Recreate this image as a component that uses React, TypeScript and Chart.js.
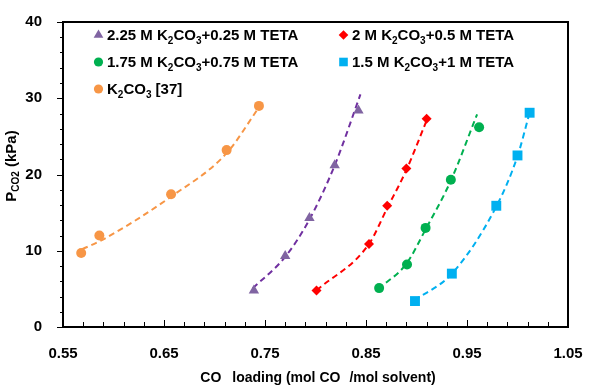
import React, { useEffect, useRef } from "react";
import { Chart, registerables } from "chart.js";

Chart.register(...registerables);

const FONT = "'Liberation Sans', Arial, sans-serif";

// ---- Data ----
// Markers
const tetaA_x = [0.739, 0.770, 0.794, 0.819, 0.8425];
const tetaA_y = [4.8, 9.3, 14.3, 21.2, 28.4];
const tetaB_x = [0.801, 0.853, 0.871, 0.890, 0.910];
const tetaB_y = [4.8, 10.9, 15.9, 20.8, 27.3];
const tetaC_x = [0.863, 0.8906, 0.909, 0.934, 0.962];
const tetaC_y = [5.1, 8.2, 13.0, 19.3, 26.2];
const tetaD_x = [0.8985, 0.935, 0.979, 1.0, 1.012];
const tetaD_y = [3.4, 7.0, 15.9, 22.5, 28.1];
const k2co3_x = [0.568, 0.586, 0.657, 0.712, 0.744];
const k2co3_y = [9.7, 12.0, 17.4, 23.2, 29.0];

// Dashed trend lines
const trendA_x = [0.738, 0.770, 0.794, 0.819, 0.8445];
const trendA_y = [5.1, 9.2, 14.1, 21.2, 30.5];
const trendB_x = [0.801, 0.853, 0.871, 0.890, 0.911];
const trendB_y = [4.8, 10.9, 15.6, 20.6, 27.4];
const trendC_x = [0.862, 0.890, 0.909, 0.934, 0.960];
const trendC_y = [5.0, 8.3, 12.8, 19.2, 27.9];
const trendD_x = [0.898, 0.935, 0.979, 1.0, 1.012];
const trendD_y = [3.5, 7.0, 15.8, 22.4, 28.1];
const trendE_x = [0.569, 0.590, 0.657, 0.712, 0.744];
const trendE_y = [10.2, 11.5, 17.1, 22.8, 28.8];

// Axis ticks
const xMajorTicks = [0.55, 0.65, 0.75, 0.85, 0.95, 1.05];
const xMinorTicks = [
  0.57, 0.59, 0.61, 0.63, 0.67, 0.69, 0.71, 0.73, 0.77, 0.79, 0.81, 0.83,
  0.87, 0.89, 0.91, 0.93, 0.97, 0.99, 1.01, 1.03,
];
const yMajorTicks = [0, 10, 20, 30, 40];
const yMinorTicks = [2, 4, 6, 8, 12, 14, 16, 18, 22, 24, 26, 28, 32, 34, 36, 38];

const PURPLE_M = "#8064A2";
const PURPLE_L = "#7030A0";
const RED = "#FF0000";
const GREEN = "#00B050";
const BLUE = "#00B0F0";
const ORANGE = "#F79646";

type Part = { t: string; sub?: boolean };

const legendItems: { shape: string; color: string; col: number; row: number; parts: Part[] }[] = [
  { shape: "triangle", color: PURPLE_M, col: 0, row: 0, parts: [{ t: "2.25 M K" }, { t: "2", sub: true }, { t: "CO" }, { t: "3", sub: true }, { t: "+0.25 M TETA" }] },
  { shape: "diamond", color: RED, col: 1, row: 0, parts: [{ t: "2 M K" }, { t: "2", sub: true }, { t: "CO" }, { t: "3", sub: true }, { t: "+0.5 M TETA" }] },
  { shape: "circle", color: GREEN, col: 0, row: 1, parts: [{ t: "1.75 M K" }, { t: "2", sub: true }, { t: "CO" }, { t: "3", sub: true }, { t: "+0.75 M TETA" }] },
  { shape: "square", color: BLUE, col: 1, row: 1, parts: [{ t: "1.5 M K" }, { t: "2", sub: true }, { t: "CO" }, { t: "3", sub: true }, { t: "+1 M TETA" }] },
  { shape: "circle", color: ORANGE, col: 0, row: 2, parts: [{ t: "K" }, { t: "2", sub: true }, { t: "CO" }, { t: "3", sub: true }, { t: " [37]" }] },
];

function pts(xs: number[], ys: number[]) {
  return xs.map((x, i) => ({ x, y: ys[i] }));
}

function drawRich(ctx: CanvasRenderingContext2D, x: number, y: number, parts: Part[], size: number, measureOnly = false) {
  let cx = x;
  for (const p of parts) {
    ctx.font = p.sub ? `bold ${Math.round(size * 0.66)}px ${FONT}` : `bold ${size}px ${FONT}`;
    if (!measureOnly) ctx.fillText(p.t, cx, p.sub ? y + size * 0.22 : y);
    cx += ctx.measureText(p.t).width;
  }
  return cx - x;
}

function drawShape(ctx: CanvasRenderingContext2D, shape: string, x: number, y: number, color: string) {
  ctx.fillStyle = color;
  ctx.beginPath();
  if (shape === "triangle") {
    const r = 5.6;
    ctx.moveTo(x, y - r);
    ctx.lineTo(x + r * 0.866, y + r * 0.5);
    ctx.lineTo(x - r * 0.866, y + r * 0.5);
    ctx.closePath();
  } else if (shape === "diamond") {
    const r = 4.8;
    ctx.moveTo(x, y - r);
    ctx.lineTo(x + r, y);
    ctx.lineTo(x, y + r);
    ctx.lineTo(x - r, y);
    ctx.closePath();
  } else if (shape === "square") {
    ctx.rect(x - 4.3, y - 4.3, 8.6, 8.6);
  } else {
    ctx.arc(x, y, 4.6, 0, Math.PI * 2);
  }
  ctx.fill();
}

const decorPlugin = {
  id: "decor",
  afterDraw(chart: any) {
    const ctx: CanvasRenderingContext2D = chart.ctx;
    const { left, right, top, bottom } = chart.chartArea;
    const xs = chart.scales.x;
    const ys = chart.scales.y;
    ctx.save();
    // frame
    ctx.strokeStyle = "#000";
    ctx.lineWidth = 2;
    ctx.strokeRect(left, top, right - left, bottom - top);
    // x ticks (inward)
    ctx.lineWidth = 1;
    ctx.beginPath();
    for (const v of xMajorTicks) {
      const px = Math.round(xs.getPixelForValue(v)) + 0.5;
      ctx.moveTo(px, bottom);
      ctx.lineTo(px, bottom - 7);
    }
    for (const v of xMinorTicks) {
      const px = Math.round(xs.getPixelForValue(v)) + 0.5;
      ctx.moveTo(px, bottom);
      ctx.lineTo(px, bottom - 5);
    }
    // y ticks (outward)
    for (const v of yMajorTicks) {
      const py = Math.round(ys.getPixelForValue(v)) + 0.5;
      ctx.moveTo(left, py);
      ctx.lineTo(left - 6, py);
    }
    for (const v of yMinorTicks) {
      const py = Math.round(ys.getPixelForValue(v)) + 0.5;
      ctx.moveTo(left, py);
      ctx.lineTo(left - 3, py);
    }
    ctx.stroke();

    // legend
    ctx.textBaseline = "alphabetic";
    ctx.textAlign = "left";
    const colMarkX = [98.5, 343.5];
    const colTextX = [107, 352];
    const rowY = [35, 62, 89];
    for (const it of legendItems) {
      const my = rowY[it.row];
      drawShape(ctx, it.shape, colMarkX[it.col], my, it.color);
      ctx.fillStyle = "#000";
      drawRich(ctx, colTextX[it.col], my + 5.3, it.parts, 15);
    }

    // x-axis title
    ctx.fillStyle = "#000";
    ctx.font = `bold 14px ${FONT}`;
    const segs = ["CO", "loading (mol CO", "/mol solvent)"];
    const gaps = [11, 9];
    const widths = segs.map((s) => ctx.measureText(s).width);
    const total = widths[0] + widths[1] + widths[2] + gaps[0] + gaps[1];
    let sx = 318 - total / 2;
    const by = 382;
    segs.forEach((s, i) => {
      ctx.fillText(s, sx, by);
      sx += widths[i] + (gaps[i] || 0);
    });

    // y-axis title
    ctx.save();
    ctx.translate(16, 166);
    ctx.rotate(-Math.PI / 2);
    const yParts: Part[] = [{ t: "P" }, { t: "CO2", sub: true }, { t: " (kPa)" }];
    const w = drawRich(ctx, 0, 0, yParts, 15, true);
    drawRich(ctx, -w / 2, 0, yParts, 15);
    ctx.restore();

    ctx.restore();
  },
};

export default function App() {
  const ref = useRef<HTMLCanvasElement | null>(null);
  useEffect(() => {
    if (!ref.current) return;
    const markerDs = (data: any, color: string, style: string, radius: number) => ({
      type: "scatter" as const,
      data,
      showLine: false,
      pointStyle: style,
      pointRadius: radius,
      pointBackgroundColor: color,
      pointBorderColor: color,
      pointBorderWidth: 0,
      order: 0,
    });
    const trendDs = (data: any, color: string) => ({
      type: "line" as const,
      data,
      borderColor: color,
      borderWidth: 2,
      borderDash: [6, 4],
      pointRadius: 0,
      fill: false,
      cubicInterpolationMode: "monotone" as const,
      order: 1,
    });
    const chart = new Chart(ref.current, {
      type: "scatter",
      data: {
        datasets: [
          trendDs(pts(trendA_x, trendA_y), PURPLE_L),
          trendDs(pts(trendB_x, trendB_y), RED),
          trendDs(pts(trendC_x, trendC_y), GREEN),
          trendDs(pts(trendD_x, trendD_y), BLUE),
          trendDs(pts(trendE_x, trendE_y), ORANGE),
          markerDs(pts(tetaA_x, tetaA_y), PURPLE_M, "triangle", 6),
          markerDs(pts(tetaB_x, tetaB_y), RED, "rectRot", 5),
          markerDs(pts(tetaC_x, tetaC_y), GREEN, "circle", 5),
          markerDs(pts(tetaD_x, tetaD_y), BLUE, "rect", 7),
          markerDs(pts(k2co3_x, k2co3_y), ORANGE, "circle", 5),
        ] as any,
      },
      options: {
        responsive: false,
        animation: false,
        devicePixelRatio: 1,
        layout: { padding: { top: 14, right: 32, left: 0, bottom: 0 } },
        plugins: {
          legend: { display: false },
          tooltip: { enabled: false },
        },
        scales: {
          x: {
            type: "linear",
            min: 0.55,
            max: 1.05,
            grid: { display: false },
            border: { display: false },
            ticks: {
              stepSize: 0.1,
              padding: 10,
              color: "#000",
              font: { family: FONT, size: 15, weight: "bold" },
              callback: (v: any) => Number(v).toFixed(2),
              maxRotation: 0,
            },
            afterFit: (s: any) => {
              s.height = 61;
            },
          },
          y: {
            type: "linear",
            min: 0,
            max: 40,
            grid: { display: false },
            border: { display: false },
            ticks: {
              stepSize: 10,
              padding: 13,
              color: "#000",
              font: { family: FONT, size: 15, weight: "bold" },
            },
            afterFit: (s: any) => {
              s.width = 63;
            },
          },
        },
      } as any,
      plugins: [decorPlugin],
    });
    return () => chart.destroy();
  }, []);
  return (
    <div style={{ position: "absolute", left: 0, top: 0, width: 600, height: 388, background: "#fff" }}>
      <canvas ref={ref} width={600} height={388} style={{ display: "block" }} />
    </div>
  );
}
